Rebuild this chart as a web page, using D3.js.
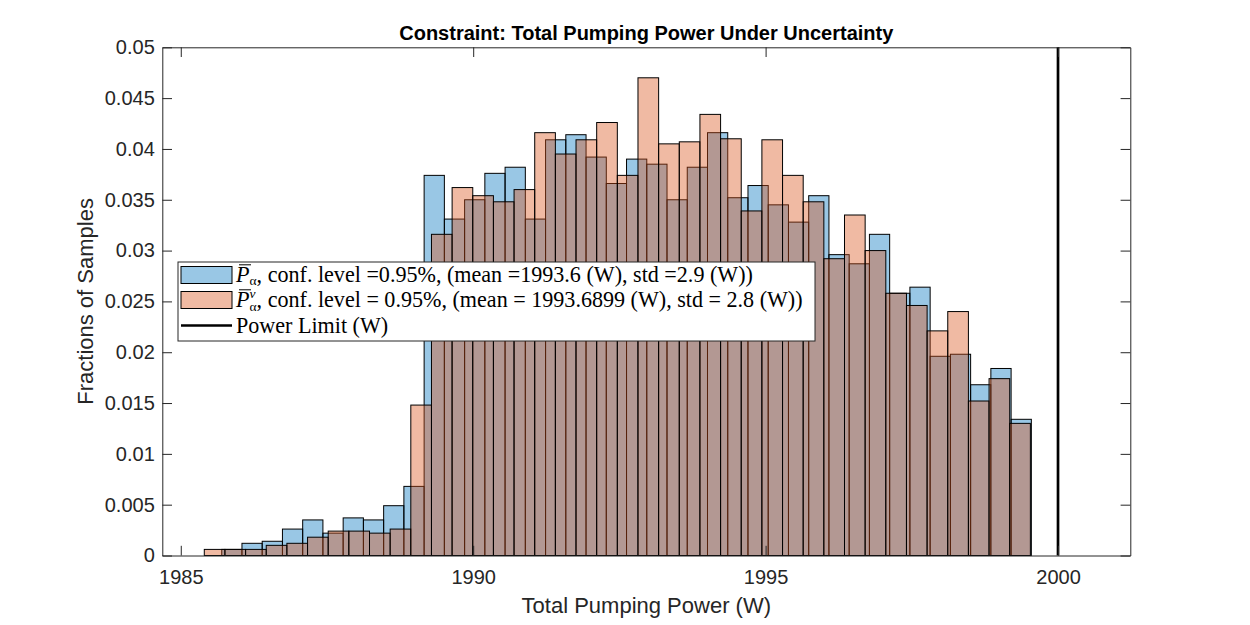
<!DOCTYPE html>
<html><head><meta charset="utf-8">
<script src="https://cdn.jsdelivr.net/npm/d3@7/dist/d3.min.js"></script>
<style>body{margin:0;background:#fff} svg{display:block}</style>
</head><body>
<svg id="chart" width="1250" height="625"></svg>
<script>
// ---------- data ----------
const chartTitle = "Constraint: Total Pumping Power Under Uncertainty";
const xLabel = "Total Pumping Power (W)";
const yLabel = "Fractions of Samples";

// histogram of P̄_α (blue): 40 bins
const blueBinStart = 1985.700;
const blueBinWidth = 0.3461;
const blueValues = [
  0.0006, 0.0012, 0.0014, 0.0026, 0.0035, 0.0022, 0.0037, 0.0035, 0.0049, 0.0068,
  0.0374, 0.0331, 0.0350, 0.0376, 0.0382, 0.0331, 0.0409, 0.0414, 0.0392, 0.0366,
  0.0390, 0.0385, 0.0350, 0.0382, 0.0416, 0.0352, 0.0364, 0.0345, 0.0328, 0.0354,
  0.0296, 0.0287, 0.0316, 0.0258, 0.0264, 0.0196, 0.0198, 0.0168, 0.0184, 0.0134
];

// histogram of P̄^v_α (orange): 40 bins
const orangeBinStart = 1985.402;
const orangeBinWidth = 0.35313;
const orangeValues = [
  0.0006, 0.0006, 0.0006, 0.0010, 0.0012, 0.0018, 0.0024, 0.0024, 0.0022, 0.0026,
  0.0148, 0.0316, 0.0362, 0.0354, 0.0348, 0.0360, 0.0416, 0.0395, 0.0409, 0.0426,
  0.0374, 0.0470, 0.0405, 0.0407, 0.0434, 0.0410, 0.0339, 0.0409, 0.0374, 0.0348,
  0.0292, 0.0335, 0.0300, 0.0258, 0.0246, 0.0221, 0.0240, 0.0152, 0.0174, 0.0130
];

const powerLimit = 2000;

const xDomain = [1984.684, 2001.236];
const yDomain = [0, 0.05];
const xTickValues = [1985, 1990, 1995, 2000];
const yTickValues = [0, 0.005, 0.01, 0.015, 0.02, 0.025, 0.03, 0.035, 0.04, 0.045, 0.05];
const yTickLabels = ["0", "0.005", "0.01", "0.015", "0.02", "0.025", "0.03", "0.035", "0.04", "0.045", "0.05"];

const legendRow1 = ", conf. level =0.95%, (mean =1993.6 (W), std =2.9 (W))";
const legendRow2 = ", conf. level = 0.95%, (mean = 1993.6899 (W), std = 2.8 (W))";
const legendRow3 = "Power Limit (W)";

// ---------- layout ----------
const W = 1250, H = 625;
const m = {left: 162.3, right: 1250 - 1130.3, top: 47.3, bottom: 625 - 555.5};
const AX = "#262626";
const sans = "'Liberation Sans', Arial, Helvetica, sans-serif";
const serif = "'Liberation Serif', 'Times New Roman', serif";

const svg = d3.select("#chart");
const x = d3.scaleLinear().domain(xDomain).range([m.left, W - m.right]);
const y = d3.scaleLinear().domain(yDomain).range([H - m.bottom, m.top]);

const blueBins = blueValues.map((v, i) => ({x0: blueBinStart + i * blueBinWidth, x1: blueBinStart + (i + 1) * blueBinWidth, v}));
const orangeBins = orangeValues.map((v, i) => ({x0: orangeBinStart + i * orangeBinWidth, x1: orangeBinStart + (i + 1) * orangeBinWidth, v}));

const blueColor = "rgb(0,114,189)";
const orangeColor = "rgb(217,83,25)";
const faceAlpha = 0.4;

function drawHist(bins, color, cls) {
  svg.append("g").attr("class", cls)
    .selectAll("rect").data(bins).join("rect")
    .attr("x", d => x(d.x0))
    .attr("width", d => x(d.x1) - x(d.x0))
    .attr("y", d => y(d.v))
    .attr("height", d => y(0) - y(d.v))
    .attr("fill", color)
    .attr("fill-opacity", faceAlpha)
    .attr("stroke", "#000")
    .attr("stroke-width", 1);
}
drawHist(blueBins, blueColor, "blue");
drawHist(orangeBins, orangeColor, "orange");

// power limit line
svg.append("line")
  .attr("x1", x(powerLimit)).attr("x2", x(powerLimit))
  .attr("y1", y(yDomain[0])).attr("y2", y(yDomain[1]))
  .attr("stroke", "#000").attr("stroke-width", 2.7);

// ---------- axes ----------
const tickLen = 9.7;
const gx = svg.append("g").attr("transform", `translate(0,${H - m.bottom})`)
  .call(d3.axisBottom(x).tickValues(xTickValues).tickFormat(d3.format("d"))
    .tickSizeInner(-tickLen).tickSizeOuter(0).tickPadding(14.5));
const gxt = svg.append("g").attr("transform", `translate(0,${m.top})`)
  .call(d3.axisTop(x).tickValues(xTickValues).tickFormat("")
    .tickSizeInner(-tickLen).tickSizeOuter(0));
const gy = svg.append("g").attr("transform", `translate(${m.left},0)`)
  .call(d3.axisLeft(y).tickValues(yTickValues).tickFormat((d, i) => yTickLabels[i])
    .tickSizeInner(-tickLen).tickSizeOuter(0).tickPadding(7.5));
const gyr = svg.append("g").attr("transform", `translate(${W - m.right},0)`)
  .call(d3.axisRight(y).tickValues(yTickValues).tickFormat("")
    .tickSizeInner(-tickLen).tickSizeOuter(0));

[gx, gxt, gy, gyr].forEach(g => {
  g.selectAll("path.domain").attr("stroke", AX).attr("stroke-width", 1);
  g.selectAll(".tick line").attr("stroke", AX).attr("stroke-width", 1);
  g.selectAll(".tick text").attr("fill", AX).style("font-family", sans).style("font-size", "20px");
});

// title & labels
svg.append("text").attr("x", (m.left + W - m.right) / 2).attr("y", 39.5)
  .attr("text-anchor", "middle").style("font-family", sans).style("font-size", "20px")
  .style("font-weight", "bold").attr("fill", "#000").text(chartTitle);
svg.append("text").attr("x", (m.left + W - m.right) / 2).attr("y", 613)
  .attr("text-anchor", "middle").style("font-family", sans).style("font-size", "22px")
  .attr("fill", AX).text(xLabel);
svg.append("text").attr("transform", `translate(93.3,${(m.top + H - m.bottom) / 2}) rotate(-90)`)
  .attr("text-anchor", "middle").style("font-family", sans).style("font-size", "22px")
  .attr("fill", AX).text(yLabel);

// ---------- legend ----------
const lg = svg.append("g");
const L = {x: 178, y: 262, w: 637, h: 79};
lg.append("rect").attr("x", L.x).attr("y", L.y).attr("width", L.w).attr("height", L.h)
  .attr("fill", "#fff").attr("stroke", AX).attr("stroke-width", 1);
const rowY = [275, 300, 325.5];
const lfs = 22.1;
const sfs = 13.5;
// patches
lg.append("rect").attr("x", 181).attr("y", rowY[0] - 8.5).attr("width", 51).attr("height", 17)
  .attr("fill", blueColor).attr("fill-opacity", faceAlpha).attr("stroke", "#000");
lg.append("rect").attr("x", 181).attr("y", rowY[1] - 8.5).attr("width", 51).attr("height", 17)
  .attr("fill", orangeColor).attr("fill-opacity", faceAlpha).attr("stroke", "#000");
lg.append("line").attr("x1", 181).attr("x2", 232).attr("y1", rowY[2]).attr("y2", rowY[2])
  .attr("stroke", "#000").attr("stroke-width", 2.7);

function pbar(rowIdx, sup, rest) {
  const by = rowY[rowIdx] + 7;
  const t = lg.append("text").attr("x", 236).attr("y", by)
    .style("font-family", serif).style("font-size", lfs + "px").attr("fill", "#000");
  const p = t.append("tspan").style("font-style", "italic").text("P");
  const pw = p.node().getComputedTextLength();
  if (sup) {
    const v = t.append("tspan").style("font-style", "italic").style("font-size", sfs + "px").attr("dy", -9).text(sup);
    const vw = v.node().getComputedTextLength();
    t.append("tspan").style("font-size", sfs + "px").attr("dx", -vw).attr("dy", 13).text("α");
    t.append("tspan").attr("dy", -4).text(rest);
  } else {
    t.append("tspan").style("font-size", sfs + "px").attr("dy", 3).text("α");
    t.append("tspan").attr("dy", -3).text(rest);
  }
  lg.append("line").attr("x1", 236 + 3).attr("x2", 236 + pw + 1.5)
    .attr("y1", by - 17.2).attr("y2", by - 17.2).attr("stroke", "#000").attr("stroke-width", 1);
}
pbar(0, null, legendRow1);
pbar(1, "v", legendRow2);
lg.append("text").attr("x", 236).attr("y", rowY[2] + 7)
  .style("font-family", serif).style("font-size", lfs + "px").attr("fill", "#000").text(legendRow3);
</script>
</body></html>
